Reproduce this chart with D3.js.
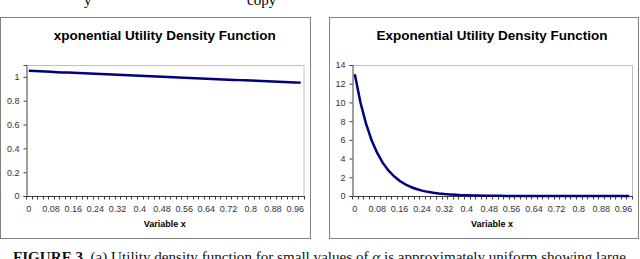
<!DOCTYPE html>
<html><head><meta charset="utf-8">
<script src="https://cdn.jsdelivr.net/npm/d3@7"></script>
<style>body{margin:0;background:#fff}svg{display:block}</style>
</head><body>
<svg id="c" width="640" height="259"></svg>
<script>
// categories: x from 0 to 0.98 step 0.02 (typed)
const categories = [0,0.02,0.04,0.06,0.08,0.10,0.12,0.14,0.16,0.18,0.20,0.22,0.24,0.26,0.28,0.30,0.32,0.34,0.36,0.38,0.40,0.42,0.44,0.46,0.48,0.50,0.52,0.54,0.56,0.58,0.60,0.62,0.64,0.66,0.68,0.70,0.72,0.74,0.76,0.78,0.80,0.82,0.84,0.86,0.88,0.90,0.92,0.94,0.96,0.98];
const leftValues = [1.051,1.049,1.047,1.045,1.043,1.040,1.038,1.036,1.034,1.032,1.030,1.028,1.026,1.024,1.022,1.020,1.018,1.016,1.014,1.012,1.010,1.008,1.006,1.003,1.001,0.999,0.997,0.995,0.993,0.991,0.989,0.987,0.985,0.983,0.981,0.979,0.977,0.975,0.973,0.971,0.970,0.968,0.966,0.964,0.962,0.960,0.958,0.956,0.954,0.952];
const rightValues = [13.00,10.02,7.73,5.96,4.60,3.54,2.73,2.11,1.62,1.25,0.965,0.744,0.574,0.443,0.341,0.263,0.203,0.157,0.121,0.093,0.072,0.055,0.043,0.033,0.025,0.020,0.015,0.012,0.009,0.007,0.005,0.004,0.003,0.002,0.002,0.001,0.001,0.001,0.001,0,0,0,0,0,0,0,0,0,0,0];
const xTickLabels = ["0","0.08","0.16","0.24","0.32","0.4","0.48","0.56","0.64","0.72","0.8","0.88","0.96"];
const leftYTicks = [0,0.2,0.4,0.6,0.8,1];
const rightYTicks = [0,2,4,6,8,10,12,14];
const titles = ["xponential Utility Density Function","Exponential Utility Density Function"];
const xTitle = "Variable x";

const svg = d3.select("#c");

function chart(opt){
  const g = svg.append("g");
  g.append("rect").attr("x",opt.bx+0.5).attr("y",17.5).attr("width",opt.bw).attr("height",221)
    .attr("fill","#fff").attr("stroke","#808080").attr("stroke-width",1);
  g.append("text").attr("x",(opt.pl+opt.pr)/2).attr("y",40).attr("text-anchor","middle")
    .attr("font-family","Liberation Sans, Arial, sans-serif").attr("font-weight","bold")
    .attr("font-size",13.5).attr("fill","#000").text(opt.title);
  const x = d3.scaleBand().domain(categories.map(String)).range([opt.pl,opt.pr]).paddingInner(0).paddingOuter(0);
  const y = d3.scaleLinear().domain(opt.yDomain).range([196,65]);
  g.append("path").attr("d",`M${opt.pl},65.5H${opt.pr+0.5}V196`).attr("fill","none").attr("stroke","#c0c0c0").attr("stroke-width",1);
  const ya = g.append("g").attr("transform",`translate(${opt.pl+0.5},0)`)
    .call(d3.axisLeft(y).tickValues(opt.yTicks).tickSize(3).tickPadding(4).tickFormat(d=>String(d)));
  ya.select(".domain").attr("stroke","#404040");
  ya.selectAll(".tick line").attr("stroke","#404040");
  ya.selectAll("text").attr("font-family","Liberation Sans, Arial, sans-serif").attr("font-size",9).attr("fill","#333");
  const xa = g.append("g").attr("transform",`translate(0,${196.5})`)
    .call(d3.axisBottom(x).tickSize(0).tickPadding(9).tickFormat(d=>{const i=categories.indexOf(+d); return i%4===0? xTickLabels[i/4]:"";}));
  xa.select(".domain").attr("stroke","#404040").attr("d",`M${opt.pl},0H${opt.pr+0.5}`);
  xa.selectAll("text").attr("font-family","Liberation Sans, Arial, sans-serif").attr("font-size",9).attr("fill","#333");
  const bounds = categories.map(c=>x(String(c))).concat([opt.pr]);
  g.append("g").selectAll("line").data(bounds).join("line")
    .attr("x1",d=>Math.round(d)+0.5).attr("x2",d=>Math.round(d)+0.5).attr("y1",196).attr("y2",199.5)
    .attr("stroke","#404040").attr("stroke-width",1);
  g.append("text").attr("x",(opt.pl+opt.pr)/2).attr("y",227).attr("text-anchor","middle")
    .attr("font-family","Liberation Sans, Arial, sans-serif").attr("font-weight","bold")
    .attr("font-size",9).attr("fill","#000").text(xTitle);
  const line = d3.line().x((d,i)=>x(String(categories[i]))+x.bandwidth()/2).y(d=>y(d));
  g.append("path").datum(opt.values).attr("d",line).attr("fill","none")
    .attr("stroke","#000080").attr("stroke-width",2.5).attr("stroke-linejoin","round");
}

chart({bx:0,bw:310,pl:26,pr:303.5,yDomain:[0,1.1],yTicks:leftYTicks,values:leftValues,title:titles[0]});
chart({bx:329,bw:309,pl:352,pr:632,yDomain:[0,14],yTicks:rightYTicks,values:rightValues,title:titles[1]});

svg.append("text").attr("x",247).attr("y",5).attr("font-family","Liberation Serif, serif").attr("font-size",15).text("copy");
svg.append("text").attr("x",84).attr("y",5).attr("font-family","Liberation Serif, serif").attr("font-size",15).text("y");
const cap = svg.append("text").attr("x",13).attr("y",262).attr("font-family","Liberation Serif, serif").attr("font-size",15.1).attr("fill","#111");
cap.append("tspan").attr("font-weight","bold").text("FIGURE 3.");
cap.append("tspan").text(" (a) Utility density function for small values of ");
cap.append("tspan").attr("font-style","italic").text("α");
cap.append("tspan").text(" is approximately uniform showing large");
</script>
</body></html>
